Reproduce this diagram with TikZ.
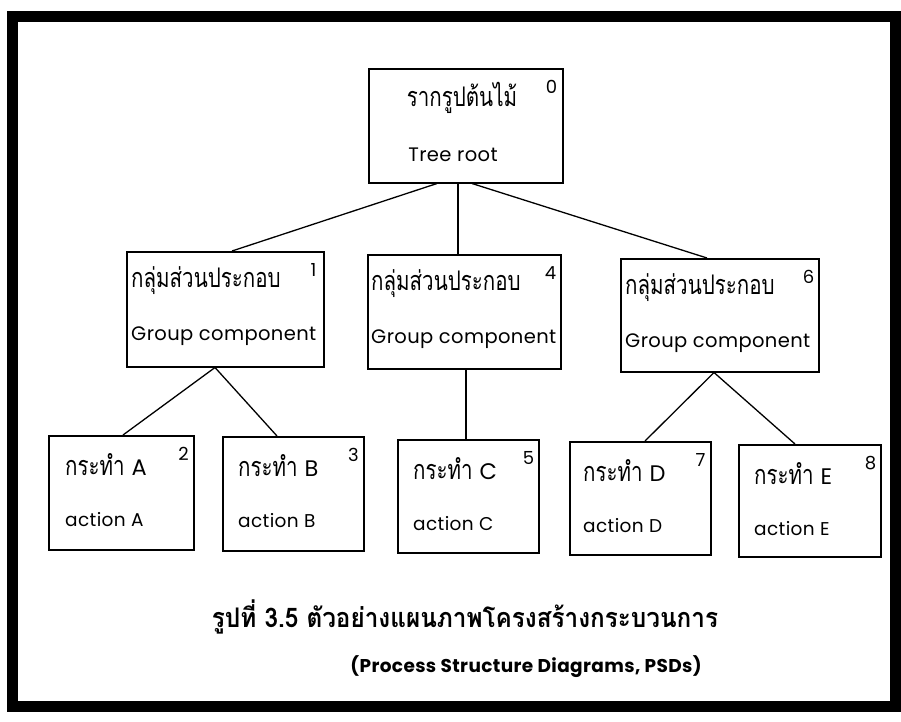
\documentclass[tikz,border=0pt]{standalone}
\usepackage{fontspec}
\setmainfont{Poppins}
\newfontfamily\labelfont[LetterSpace=2]{Poppins}
\newfontfamily\captionfont[LetterSpace=2]{Poppins}
\newfontfamily\thaifont[Script=Thai, FakeStretch=0.76]{Loma}
\newfontfamily\thaicapfont[Script=Thai, FakeStretch=0.9]{Loma}
\usetikzlibrary{calc}

% one process box: name, x1, y1, x2, y2, text indent, Thai label, English label, step number
\newcommand\psdbox[9]{%
  \node[boxframe, anchor=north west, minimum width={#4-#2}, minimum height={#5-#3}] (#1) at (#2,#3) {};
  \node[thlabel, anchor=west] (#1-th) at ($(#1.north west)+(#6,30)$) {#7};
  \node[enstyle, anchor=west] (#1-en) at ($(#1.north west)+(#6,85)$) {#8};
  \node[numlabel] (#1-no) at ($(#1.north east)+(-11,19)$) {#9};
}
% latin letter that follows the Thai word in an action label
\newcommand\actletter[1]{{\labelfont\fontsize{22.5}{24}\selectfont #1}}

\begin{document}
\begin{tikzpicture}[x=1pt, y=-1pt,
  boxframe/.style={draw, line width=1.5pt, inner sep=0pt},
  link/.style={line width=1.3pt},
  thlabel/.style={inner sep=0pt, font=\thaifont\fontsize{27}{30}\selectfont},
  enlabel/.style={inner sep=0pt, font=\labelfont\fontsize{19.5}{22}\selectfont},
  actlabel/.style={inner sep=0pt, font=\labelfont\fontsize{18.5}{22}\selectfont},
  enstyle/.style={enlabel},
  numlabel/.style={inner sep=0pt, font=\fontsize{18}{20}\selectfont},
  captionth/.style={inner sep=0pt, font=\thaicapfont\bfseries\fontsize{27}{30}\selectfont},
  captionen/.style={inner sep=0pt, font=\captionfont\bfseries\fontsize{18.5}{22}\selectfont}]

\useasboundingbox (0,0) rectangle (901,721);
\fill[white] (0,0) rectangle (901,721);

% outer frame
\draw[line width=11pt] (12.5,16.5) rectangle (895.5,706);

% tree root
\node[boxframe, anchor=north west, minimum width=194, minimum height=114] (root) at (368,68) {};
\node[thlabel] (root-th) at ($(root.north west)+(94,30)$) {รากรูปต้นไม้};
\node[enlabel] (root-en) at ($(root.north west)+(85,87)$) {Tree root};
\node[numlabel] (root-no) at ($(root.north east)+(-12,19)$) {0};

% group components
\psdbox{g1}{126}{251}{323}{366}{5}{กลุ่มส่วนประกอบ}{Group component}{1}
\psdbox{g4}{367}{254}{560}{368}{4}{กลุ่มส่วนประกอบ}{Group component}{4}
\psdbox{g6}{620}{258}{818}{371}{5}{กลุ่มส่วนประกอบ}{Group component}{6}

% actions
\begin{scope}[enstyle/.style={actlabel}]
\psdbox{a}{48}{435}{193}{549}{17}{กระทำ \actletter{A}}{action A}{2}
\psdbox{b}{222}{436}{363}{550}{16}{กระทำ \actletter{B}}{action B}{3}
\psdbox{c}{397}{439}{538}{552}{16}{กระทำ \actletter{C}}{action C}{5}
\psdbox{d}{569}{441}{710}{554}{14}{กระทำ \actletter{D}}{action D}{7}
\psdbox{e}{738}{444}{880}{556}{16}{กระทำ \actletter{E}}{action E}{8}
\end{scope}

% connectors
\draw[link] ($(root.south west)+(69,0)$) -- ($(g1.north west)+(106,0)$);
\draw[link] ($(root.south west)+(90,0)$) -- ($(g4.north west)+(91,0)$);
\draw[link] ($(root.south west)+(104,0)$) -- ($(g6.north west)+(87,0)$);
\draw[link] ($(g1.south west)+(89,0)$) -- ($(a.north west)+(75,0)$);
\draw[link] ($(g1.south west)+(89,0)$) -- ($(b.north west)+(55,0)$);
\draw[link] ($(g4.south west)+(99,0)$) -- ($(c.north west)+(69,0)$);
\draw[link] ($(g6.south west)+(94,0)$) -- ($(d.north west)+(76,0)$);
\draw[link] ($(g6.south west)+(94,0)$) -- ($(e.north west)+(57,0)$);

% caption
\node[captionth] (cap1) at (465,617) {รูปที่ 3.5 ตัวอย่างแผนภาพโครงสร้างกระบวนการ};
\node[captionen] (cap2) at (526,667) {(Process Structure Diagrams, PSDs)};
\end{tikzpicture}
\end{document}
